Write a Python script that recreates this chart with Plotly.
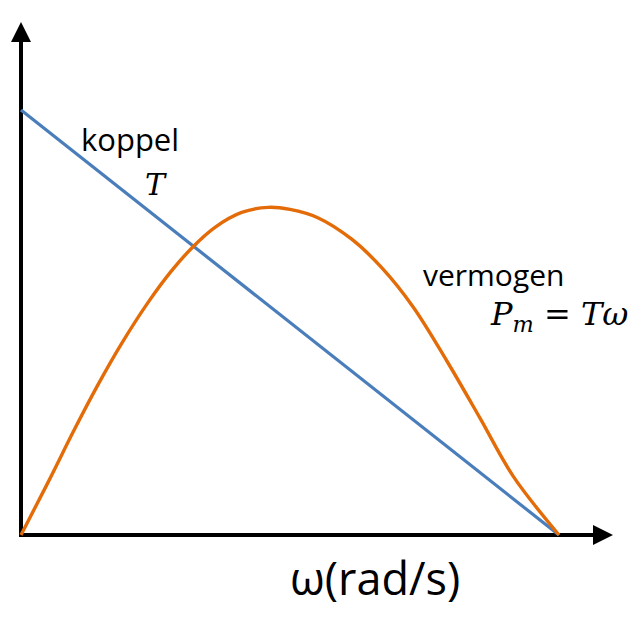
import plotly.graph_objects as go

# ---- data ----
omega_T = [0, 100]
torque = [100, 0]

omega_P = [0, 5.07, 10.04, 14.37, 18.72, 23.66, 28.01, 32.03, 36.06, 41.02, 45.97,
           50.0, 55.26, 61.47, 67.04, 72.92, 79.13, 85.32, 91.50, 100]
power = [0, 12.5, 25.1, 35.5, 45.1, 54.8, 62.2, 67.9, 72.4, 75.9, 77.1,
         76.6, 74.6, 69.6, 62.9, 53.6, 41.0, 27.5, 13.8, 0]

# ---- layout geometry (pixel frame of the 636x636 picture) ----
OFF = 8                   # default page body margin
W = H = 636 - 2 * OFF
X0, Y0 = 21, 535          # origin in picture pixels
SX, SY = 5.38, 4.25       # pixels per data unit

def dx(px):
    return (px - X0) / SX

def dy(py):
    return (Y0 - py) / SY

fig = go.Figure()

fig.add_trace(go.Scatter(x=omega_T, y=torque, mode="lines",
                         line=dict(color="#4A7EBB", width=3.2), hoverinfo="skip"))
fig.add_trace(go.Scatter(x=omega_P, y=power, mode="lines", line_shape="spline",
                         line=dict(color="#E36C09", width=3.4, smoothing=1.0), hoverinfo="skip"))

# axis lines
fig.add_shape(type="line", x0=0, y0=dy(537), x1=0, y1=dy(40),
              line=dict(color="black", width=4), layer="below")
fig.add_shape(type="line", x0=dx(19), y0=0, x1=dx(595), y1=0,
              line=dict(color="black", width=4), layer="below")
# arrow heads
fig.add_shape(type="path",
              path=f"M {dx(11)},{dy(42)} L {dx(21)},{dy(22)} L {dx(31)},{dy(42)} Z",
              fillcolor="black", line=dict(color="black", width=0))
fig.add_shape(type="path",
              path=f"M {dx(593)},{dy(525)} L {dx(613)},{dy(535)} L {dx(593)},{dy(545)} Z",
              fillcolor="black", line=dict(color="black", width=0))

sans = "Open Sans"
serif = "DejaVu Serif"

def label(text, px, py, size, family, xanchor="left"):
    fig.add_annotation(x=dx(px), y=dy(py), text=text, showarrow=False,
                       xanchor=xanchor, yanchor="middle",
                       font=dict(family=family, size=size, color="black"))

label("koppel", 79, 139, 31, sans)
label("<i>T</i>", 143, 184, 30, serif)
label("vermogen", 421, 274, 30, sans)
label("<i>P</i><sub><i>m</i></sub> = <i>T</i><i>ω</i>", 488, 316, 32, serif)
label("ω(rad/s)", 375, 577, 45, sans, xanchor="center")

fig.update_layout(
    width=W, height=H,
    margin=dict(l=0, r=0, t=0, b=0),
    paper_bgcolor="white", plot_bgcolor="white",
    showlegend=False,
    xaxis=dict(range=[dx(OFF), dx(OFF + W)], visible=False, fixedrange=True),
    yaxis=dict(range=[dy(OFF + H), dy(OFF)], visible=False, fixedrange=True),
)

fig.write_html("out.html")
